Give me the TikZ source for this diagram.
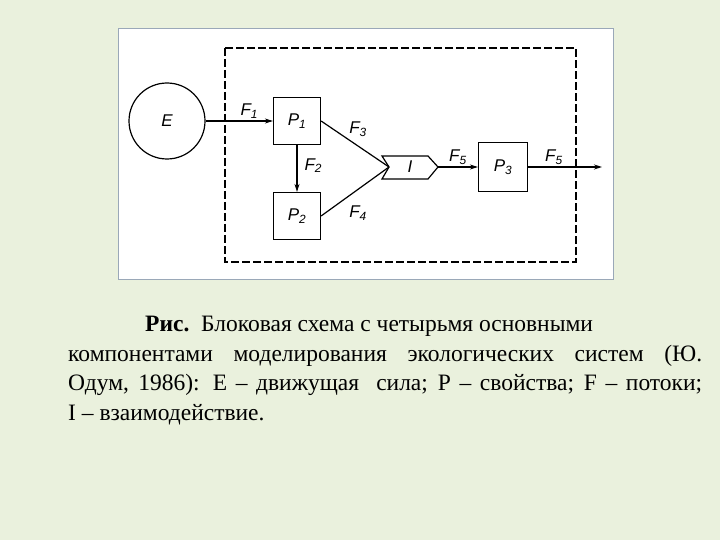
\documentclass[tikz,border=0pt]{standalone}
\usepackage{fontspec}
\setmainfont{Liberation Serif}
\newfontfamily\lblfont{Liberation Sans}
\usepackage{tikz}
\usetikzlibrary{arrows.meta}

\definecolor{slidebg}{HTML}{EAF1DD}
\definecolor{panelrim}{HTML}{9AA8B8}

\tikzset{
  blk/.style={draw, line width=1.2pt, minimum width=47pt, minimum height=47pt, inner sep=0pt},
  lbl/.style={font=\lblfont\itshape\fontsize{17}{17}\selectfont, inner sep=1pt},
  flow/.style={line width=1.2pt, -{Stealth[length=8pt, width=5pt]}},
  caption/.style={font=\fontsize{23.5}{29.5}\selectfont, text width=634pt, align=justify, inner sep=0pt}
}

\begin{document}
\begin{tikzpicture}[x=1pt, y=-1pt]

% фон и рамка
\fill[slidebg] (0,0) rectangle (720,540);
\useasboundingbox (0,0) rectangle (720,540);
\draw[panelrim, fill=white, line width=0.8pt] (118,28) rectangle (613,279);
\draw[line width=1.5pt, dash pattern=on 8pt off 3pt] (225,48) rectangle (576,262);

% определение узлов
\node[draw, circle, line width=1.2pt, minimum size=76pt, lbl] (E) at (167,121) {E};
\node[blk, lbl] (P1) at (297,121) {P\textsubscript{1}};
\node[blk, lbl] (P2) at (297,216) {P\textsubscript{2}};
\node[blk, lbl, minimum width=49pt, minimum height=49pt] (P3) at (503,167) {P\textsubscript{3}};
\coordinate (Iin) at (389,167);
\coordinate (Iout) at (438,167);
\coordinate (out) at (602,167);

% блок взаимодействия I
\draw[line width=1.2pt] (382,156) -- (428,156) -- (Iout) -- (428,179) -- (382,179) -- (Iin) -- cycle;
\node[lbl] (I) at (410,167) {I};

% соединение узлов
\draw[flow] (E) -- node[lbl, pos=0.65, above=1pt] {F\textsubscript{1}} (P1);
\draw[flow] (P1) -- node[lbl, midway, right=6pt, yshift=3pt] {F\textsubscript{2}} (P2);
\draw[line width=1.2pt] (P1.east) -- node[lbl, midway, above=6pt, xshift=3pt] {F\textsubscript{3}} (Iin);
\draw[line width=1.2pt] (P2.east) -- node[lbl, midway, below=13pt, xshift=3pt] {F\textsubscript{4}} (Iin);
\draw[flow] (Iout) -- node[lbl, midway, above=1pt] {F\textsubscript{5}} (P3);
\draw[flow] (P3) -- node[lbl, pos=0.35, above=1pt] {F\textsubscript{5}} (out);

% подпись
\node[caption, anchor=north west] (cap) at (68,316) {\hspace*{77pt}\textbf{Рис.}\ \ Блоковая схема с четырьмя основными\\
компонентами моделирования экологических систем (Ю.\linebreak
Одум, 1986): E – движущая \ сила; P – свойства; F – потоки;\linebreak
I – взаимодействие.};

\end{tikzpicture}
\end{document}
